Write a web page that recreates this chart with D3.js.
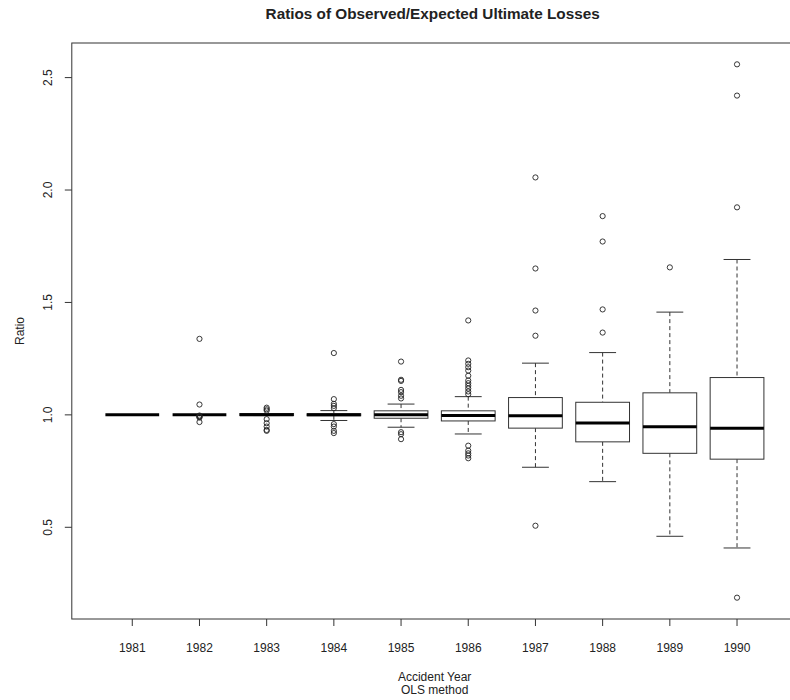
<!DOCTYPE html>
<html>
<head>
	<title>Ratios of Observed/Expected Ultimate Losses</title>
	<meta charset="utf-8">
	<script src="https://cdn.jsdelivr.net/npm/d3@7"></script>
	<style>
		body { margin:0; background:white; }
		svg text { font-family: "Liberation Sans", Arial, sans-serif; fill:#222; }
	</style>
</head>
<body>
	<div id="chart"></div>
	<script>
		// values
		var years = ["1981", "1982", "1983", "1984", "1985", "1986", "1987", "1988", "1989", "1990"];
		var lowerWhisker = [1.0, 1.0, 0.997, 0.975, 0.945, 0.915, 0.767, 0.703, 0.460, 0.408];
		var q1 = [1.0, 1.0, 0.997, 0.996, 0.985, 0.973, 0.941, 0.880, 0.829, 0.803];
		var medians = [1.0, 1.0, 1.0, 1.0, 1.0, 0.997, 0.996, 0.964, 0.947, 0.941];
		var q3 = [1.0, 1.0, 1.006, 1.005, 1.018, 1.018, 1.077, 1.056, 1.098, 1.166];
		var upperWhisker = [1.0, 1.0, 1.006, 1.019, 1.048, 1.081, 1.230, 1.277, 1.457, 1.691];
		var outliers = [
			[],
			[1.338, 1.046, 0.997, 0.994, 0.991, 0.988, 0.968],
			[1.032, 1.025, 1.019, 0.981, 0.963, 0.948, 0.933, 0.929],
			[1.275, 1.070, 1.049, 1.040, 1.030, 0.959, 0.948, 0.929, 0.919],
			[1.237, 1.156, 1.151, 1.111, 1.101, 1.085, 1.073, 0.923, 0.914, 0.892],
			[1.420, 1.242, 1.227, 1.212, 1.197, 1.174, 1.153, 1.141, 1.129, 1.117, 1.104, 1.092,
			 0.863, 0.841, 0.829, 0.819, 0.807],
			[2.056, 1.651, 1.464, 1.352, 0.507],
			[1.884, 1.771, 1.469, 1.366],
			[1.656],
			[2.559, 2.420, 1.923, 0.187]
		];
		var yTicks = [0.5, 1.0, 1.5, 2.0, 2.5];

		var width = 790, height = 700;
		var plotLeft = 71.8, plotRight = 797.5, plotTop = 43, plotBottom = 619;

		var svg = d3.select('#chart')
			.append('svg')
			.attr('width', width)
			.attr('height', height);

		var boxes = years.map(function(yr, i) {
			return { year: yr, pos: i + 1, lo: lowerWhisker[i], q1: q1[i], med: medians[i],
				q3: q3[i], hi: upperWhisker[i], out: outliers[i] };
		});

		// R style: 4% padding on both axes
		var allVals = d3.merge(outliers).concat(lowerWhisker, upperWhisker);
		var ext = d3.extent(allVals), pad = (ext[1] - ext[0]) * 0.04;
		var y = d3.scaleLinear().domain([ext[0] - pad, ext[1] + pad]).range([plotBottom, plotTop]);
		var x = d3.scaleLinear().domain([0.5 - 0.4, years.length + 0.5 + 0.4]).range([plotLeft, plotRight]);

		var boxHalf = (x(1.4) - x(1)), capHalf = boxHalf / 2;

		var g = svg.selectAll('g.box')
			.data(boxes)
			.enter().append('g')
			.attr('class', 'box');

		// whiskers
		g.append('line')
			.attr('x1', function(d) { return x(d.pos); })
			.attr('x2', function(d) { return x(d.pos); })
			.attr('y1', function(d) { return y(d.hi); })
			.attr('y2', function(d) { return y(d.q3); })
			.attr('stroke', '#333').attr('stroke-dasharray', '4,3');
		g.append('line')
			.attr('x1', function(d) { return x(d.pos); })
			.attr('x2', function(d) { return x(d.pos); })
			.attr('y1', function(d) { return y(d.q1); })
			.attr('y2', function(d) { return y(d.lo); })
			.attr('stroke', '#333').attr('stroke-dasharray', '4,3');
		// caps
		['hi', 'lo'].forEach(function(k) {
			g.append('line')
				.attr('x1', function(d) { return x(d.pos) - capHalf; })
				.attr('x2', function(d) { return x(d.pos) + capHalf; })
				.attr('y1', function(d) { return y(d[k]); })
				.attr('y2', function(d) { return y(d[k]); })
				.attr('stroke', '#333');
		});
		// box
		g.append('rect')
			.attr('x', function(d) { return x(d.pos) - boxHalf; })
			.attr('width', boxHalf * 2)
			.attr('y', function(d) { return y(d.q3); })
			.attr('height', function(d) { return y(d.q1) - y(d.q3); })
			.attr('fill', 'white').attr('stroke', '#333');
		// median
		g.append('line')
			.attr('x1', function(d) { return x(d.pos) - boxHalf; })
			.attr('x2', function(d) { return x(d.pos) + boxHalf; })
			.attr('y1', function(d) { return y(d.med); })
			.attr('y2', function(d) { return y(d.med); })
			.attr('stroke', '#000').attr('stroke-width', 3);
		// outliers
		g.selectAll('circle')
			.data(function(d) { return d.out.map(function(v) { return { pos: d.pos, v: v }; }); })
			.enter().append('circle')
			.attr('cx', function(d) { return x(d.pos); })
			.attr('cy', function(d) { return y(d.v); })
			.attr('r', 2.6)
			.attr('fill', 'none').attr('stroke', '#222').attr('stroke-width', 0.9);

		// frame
		svg.append('rect')
			.attr('x', plotLeft).attr('y', plotTop)
			.attr('width', plotRight - plotLeft).attr('height', plotBottom - plotTop)
			.attr('fill', 'none').attr('stroke', '#333');

		// y axis
		var yAxis = svg.append('g');
		yAxis.selectAll('line')
			.data(yTicks)
			.enter().append('line')
			.attr('x1', plotLeft - 7).attr('x2', plotLeft)
			.attr('y1', function(d) { return y(d); })
			.attr('y2', function(d) { return y(d); })
			.attr('stroke', '#333');
		yAxis.selectAll('text')
			.data(yTicks)
			.enter().append('text')
			.attr('transform', function(d) { return 'translate(52,' + y(d) + ') rotate(-90)'; })
			.attr('text-anchor', 'middle')
			.style('font-size', '12px')
			.text(function(d) { return d3.format('.1f')(d); });

		// x axis
		var xAxis = svg.append('g');
		xAxis.selectAll('line')
			.data(boxes)
			.enter().append('line')
			.attr('x1', function(d) { return x(d.pos); })
			.attr('x2', function(d) { return x(d.pos); })
			.attr('y1', plotBottom).attr('y2', plotBottom + 7)
			.attr('stroke', '#333');
		xAxis.selectAll('text')
			.data(boxes)
			.enter().append('text')
			.attr('x', function(d) { return x(d.pos); })
			.attr('y', 652)
			.attr('text-anchor', 'middle')
			.style('font-size', '12px')
			.text(function(d) { return d.year; });

		var cx = (plotLeft + plotRight) / 2;
		svg.append('text')
			.attr('x', cx - 2).attr('y', 19)
			.attr('text-anchor', 'middle')
			.style('font-size', '15.3px').style('font-weight', 'bold')
			.text('Ratios of Observed/Expected Ultimate Losses');
		svg.append('text')
			.attr('x', cx).attr('y', 681)
			.attr('text-anchor', 'middle')
			.style('font-size', '12px')
			.text('Accident Year');
		svg.append('text')
			.attr('x', cx).attr('y', 694)
			.attr('text-anchor', 'middle')
			.style('font-size', '12px')
			.text('OLS method');
		svg.append('text')
			.attr('transform', 'translate(24,' + (plotTop + plotBottom) / 2 + ') rotate(-90)')
			.attr('text-anchor', 'middle')
			.style('font-size', '12px')
			.text('Ratio');
	</script>
</body>
</html>
